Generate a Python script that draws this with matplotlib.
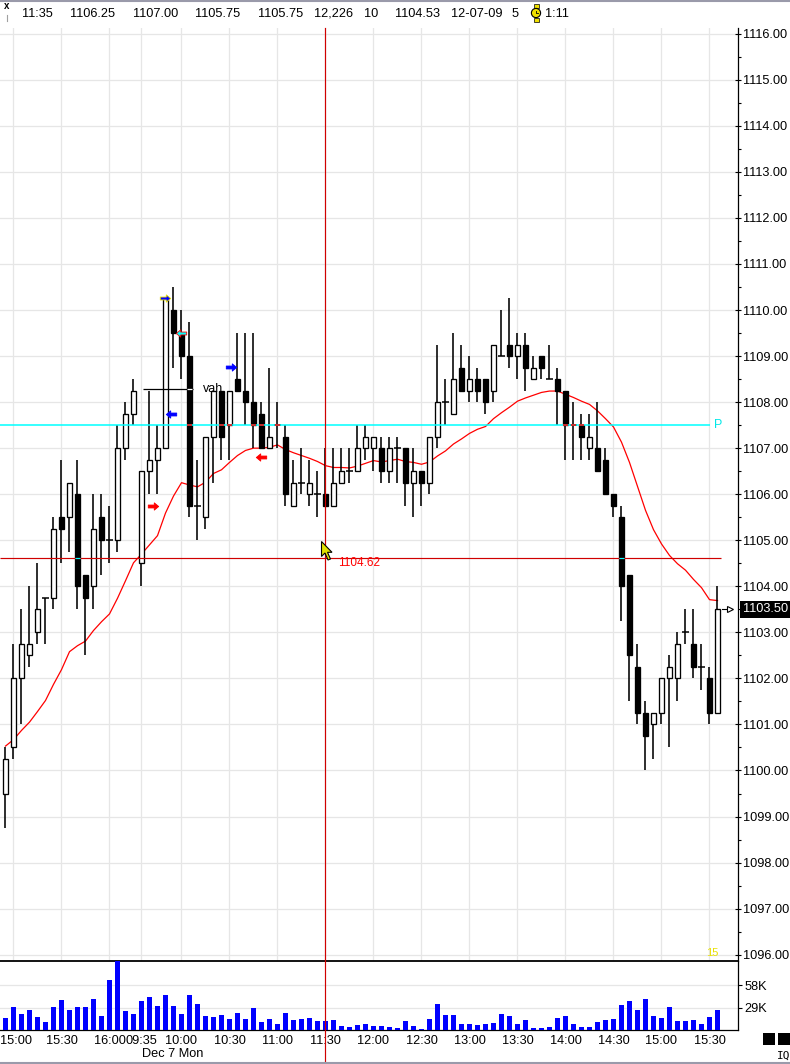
import matplotlib
matplotlib.use("Agg")
import matplotlib.pyplot as plt
import matplotlib.transforms as mtransforms
from matplotlib.patches import Rectangle, Polygon, Circle
from matplotlib.lines import Line2D
from matplotlib.path import Path
from matplotlib.ticker import FormatStrFormatter
import numpy as np

plt.rcParams['font.family'] = ['Liberation Sans', 'DejaVu Sans']

# ---------------- data (5-minute ES bars, 14:55 Dec 4 -> 15:35 Dec 7) ----------------
opens = [1099.50, 1100.50, 1102.00, 1102.50, 1103.00, 1103.75, 1103.75, 1105.50, 1105.50, 1106.00,
         1104.25, 1104.00, 1105.50, 1105.00, 1105.00, 1107.00, 1107.75, 1104.50, 1106.50, 1106.75,
         1107.00, 1110.00, 1109.50, 1109.00, 1105.75, 1105.50, 1107.25, 1108.25, 1107.50, 1108.50,
         1108.25, 1108.00, 1107.75, 1107.00, 1107.50, 1107.25, 1105.75, 1106.25, 1106.00, 1106.00,
         1106.00, 1105.75, 1106.25, 1106.50, 1106.50, 1107.00, 1107.00, 1107.00, 1106.50, 1107.00,
         1107.00, 1106.25, 1106.50, 1106.25, 1107.25, 1108.00, 1107.75, 1108.75, 1108.25, 1108.50,
         1108.50, 1108.25, 1109.00, 1109.25, 1109.00, 1109.25, 1108.50, 1109.00, 1108.50, 1108.50,
         1108.25, 1107.50, 1107.50, 1107.00, 1107.00, 1106.75, 1106.00, 1105.50, 1104.25, 1102.25,
         1101.25, 1101.00, 1101.25, 1102.00, 1102.00, 1103.00, 1102.75, 1102.25, 1102.00, 1101.25]
highs = [1100.50, 1102.75, 1103.50, 1104.00, 1104.50, 1103.75, 1105.50, 1106.75, 1106.25, 1106.75,
         1104.25, 1106.00, 1106.00, 1105.75, 1107.50, 1108.00, 1108.50, 1106.50, 1108.25, 1107.50,
         1110.25, 1110.50, 1110.00, 1109.75, 1106.75, 1107.25, 1108.25, 1108.25, 1108.25, 1109.50,
         1109.50, 1109.50, 1108.00, 1108.75, 1108.00, 1107.50, 1106.75, 1107.00, 1106.75, 1106.50,
         1107.00, 1107.00, 1107.00, 1107.00, 1107.50, 1107.50, 1107.25, 1107.25, 1107.25, 1107.25,
         1107.00, 1107.00, 1106.50, 1107.25, 1109.25, 1108.50, 1109.50, 1109.25, 1109.00, 1108.75,
         1108.50, 1109.25, 1110.00, 1110.25, 1109.50, 1109.50, 1109.00, 1109.00, 1109.25, 1108.75,
         1108.25, 1108.00, 1107.75, 1107.75, 1108.00, 1107.00, 1106.00, 1105.75, 1104.25, 1102.75,
         1101.50, 1101.25, 1102.00, 1102.50, 1103.00, 1103.50, 1103.50, 1102.75, 1102.25, 1104.00]
lows = [1098.75, 1100.25, 1101.00, 1102.25, 1102.75, 1102.75, 1103.50, 1104.50, 1104.75, 1103.50,
        1102.50, 1103.50, 1104.25, 1104.50, 1104.75, 1106.75, 1107.50, 1104.00, 1106.00, 1106.00,
        1107.00, 1108.75, 1108.50, 1105.50, 1105.00, 1105.25, 1106.25, 1106.75, 1106.75, 1108.25,
        1107.50, 1107.00, 1107.00, 1107.00, 1107.00, 1105.75, 1105.75, 1106.00, 1105.75, 1105.50,
        1105.75, 1105.75, 1106.25, 1106.25, 1106.50, 1106.75, 1106.50, 1106.25, 1106.25, 1106.25,
        1105.75, 1105.50, 1105.75, 1106.00, 1107.00, 1107.50, 1107.75, 1108.25, 1108.00, 1108.00,
        1107.75, 1108.00, 1109.00, 1108.75, 1108.50, 1108.25, 1108.50, 1108.50, 1108.50, 1107.50,
        1106.75, 1106.75, 1106.75, 1106.75, 1106.50, 1106.00, 1105.50, 1103.25, 1101.50, 1101.00,
        1100.00, 1100.25, 1101.00, 1100.50, 1101.50, 1102.75, 1102.00, 1101.75, 1101.00, 1101.25]
closes = [1100.25, 1102.00, 1102.75, 1102.75, 1103.50, 1103.75, 1105.25, 1105.25, 1106.25, 1104.00,
          1103.75, 1105.25, 1105.00, 1105.00, 1107.00, 1107.75, 1108.25, 1106.50, 1106.75, 1107.00,
          1110.25, 1109.50, 1109.00, 1105.75, 1105.75, 1107.25, 1108.25, 1107.25, 1108.25, 1108.25,
          1108.00, 1107.50, 1107.00, 1107.25, 1107.50, 1106.00, 1106.25, 1106.25, 1106.25, 1106.00,
          1105.75, 1106.25, 1106.50, 1106.50, 1107.00, 1107.25, 1107.25, 1106.50, 1107.00, 1107.00,
          1106.25, 1106.50, 1106.25, 1107.25, 1108.00, 1108.00, 1108.50, 1108.25, 1108.50, 1108.25,
          1108.00, 1109.25, 1109.00, 1109.00, 1109.25, 1108.75, 1108.75, 1108.75, 1108.50, 1108.25,
          1107.50, 1107.50, 1107.25, 1107.25, 1106.50, 1106.00, 1105.75, 1104.00, 1102.50, 1101.25,
          1100.75, 1101.25, 1102.00, 1102.25, 1102.75, 1103.00, 1102.25, 1102.25, 1101.25, 1103.50]
volumes = [16000, 29900, 20800, 26000, 16900, 10400, 29900, 39000, 26000, 29900,
           29900, 40300, 18200, 65400, 89200, 24700, 20800, 37700, 42900, 31200,
           45400, 31200, 20800, 45400, 33800, 18200, 16900, 19500, 14300, 22100,
           14300, 28600, 10400, 14300, 7800, 22100, 13000, 14300, 15600, 11700,
           12226, 13000, 5200, 3900, 6500, 7800, 5200, 5200, 3900, 2600,
           11700, 5200, 1300, 14300, 33800, 19500, 19500, 7800, 7800, 6500,
           7800, 9100, 20800, 18200, 7800, 13000, 2600, 2600, 3900, 15600,
           18200, 7800, 3900, 3900, 10400, 13000, 14300, 32500, 37700, 26000,
           40300, 18200, 15600, 29900, 11700, 11700, 13000, 7800, 16900, 26000]
ema20 = [1100.53, 1100.67, 1100.87, 1101.05, 1101.28, 1101.52, 1101.87, 1102.19, 1102.58, 1102.71,
         1102.81, 1103.04, 1103.23, 1103.40, 1103.74, 1104.12, 1104.51, 1104.70, 1104.90, 1105.10,
         1105.59, 1105.96, 1106.25, 1106.20, 1106.16, 1106.26, 1106.45, 1106.53, 1106.69, 1106.84,
         1106.95, 1107.00, 1107.00, 1107.02, 1107.07, 1106.97, 1106.90, 1106.84, 1106.78, 1106.71,
         1106.62, 1106.58, 1106.58, 1106.57, 1106.61, 1106.67, 1106.73, 1106.70, 1106.73, 1106.76,
         1106.71, 1106.69, 1106.65, 1106.70, 1106.83, 1106.94, 1107.09, 1107.20, 1107.32, 1107.41,
         1107.47, 1107.64, 1107.77, 1107.89, 1108.02, 1108.09, 1108.15, 1108.21, 1108.24, 1108.24,
         1108.17, 1108.10, 1108.02, 1107.95, 1107.81, 1107.64, 1107.46, 1107.13, 1106.69, 1106.17,
         1105.65, 1105.23, 1104.92, 1104.67, 1104.49, 1104.35, 1104.15, 1103.97, 1103.71, 1103.69]

grid_bars = [1, 7, 13, 17, 22, 28, 34, 40, 46, 52, 58, 64, 70, 76, 82, 88]
time_labels = ["15:00", "15:30", "16:00", "09:35", "10:00", "10:30", "11:00", "11:30",
               "12:00", "12:30", "13:00", "13:30", "14:00", "14:30", "15:00", "15:30"]
date_label = "Dec 7 Mon"
price_ticks = list(range(1096, 1117))
vol_ticks = [29000, 58000]
vol_tick_labels = ["29K", "58K"]

pivot_level = 1107.50
vah_level = 1108.28
cross_bar = 40
cross_price = 1104.62
last_price = 1103.50

signal_bars = [19.9, 21.9, 20.75, 18.4, 28.25, 32.0]
signal_prices = [1110.27, 1109.51, 1107.75, 1105.74, 1108.77, 1106.80]
signal_dirs = ["right", "left", "left", "right", "right", "left"]
signal_faces = ["#0000ff", "#00ffff", "#0000ff", "#ff0000", "#0000ff", "#ff0000"]
signal_edges = ["#e8e000", "#ff0000", "#0000ff", "#ff0000", "#0000ff", "#ff0000"]

header_fields = ["11:35", "1106.25", "1107.00", "1105.75", "1105.75", "12,226", "10",
                 "1104.53", "12-07-09", "5", "1:11"]
header_x = [22, 70, 133, 195, 258, 314, 364, 395, 451, 512, 545]

# ---------------- figure ----------------
W, H = 790, 1064
fig = plt.figure(figsize=(W / 100, H / 100), dpi=100)
fig.patch.set_facecolor("white")

AX_RIGHT = 738.3
PLOT_TOP, PLOT_BOT, VOL_BOT = 28, 961, 1030
ax = fig.add_axes([0, 1 - PLOT_BOT / H, AX_RIGHT / W, (PLOT_BOT - PLOT_TOP) / H])
vax = fig.add_axes([0, 1 - VOL_BOT / H, AX_RIGHT / W, (VOL_BOT - PLOT_BOT) / H])

o = np.array(opens); h = np.array(highs); l = np.array(lows); c = np.array(closes)
n = len(o)
x = np.arange(n)
xlim = (-5.5 / 8, (AX_RIGHT - 5.5) / 8)

GRID = "#e6e6e6"
ax.set_xticks(grid_bars)
ax.set_yticks(price_ticks)
ax.set_yticks(np.arange(1096.5, 1116.0, 1.0), minor=True)
ax.grid(True, which="major", color=GRID, lw=0.9)
ax.set_axisbelow(True)
ax.tick_params(axis="x", length=0, labelbottom=False)
ax.yaxis.tick_right()
ax.yaxis.set_major_formatter(FormatStrFormatter("%.2f"))
ax.tick_params(axis="y", which="major", direction="inout", length=4, width=0.8, pad=1.5, labelsize=9.2)
ax.tick_params(axis="y", which="minor", direction="out", length=2.5, width=0.8)
for s in ["left", "top", "bottom"]:
    ax.spines[s].set_visible(False)
ax.spines["right"].set_linewidth(0.9)

# EMA (behind candles)
ax.plot(x, ema20, color="#ff0000", lw=0.9, zorder=2.5)

# candles
BW = 0.74
ax.vlines(x, l, h, color="black", lw=1.15, zorder=3)
nd = o != c
up = c > o
face = np.where(up, "white", "black")
ax.bar(x[nd], np.abs(c - o)[nd], bottom=np.minimum(o, c)[nd], width=BW,
       color=face[nd], edgecolor="black", linewidth=0.95, zorder=4)
dj = ~nd
ax.hlines(o[dj], x[dj] - BW / 2 - 0.05, x[dj] + BW / 2 + 0.05, color="black", lw=1.1, zorder=4)

# pivot line (XOR look: red where it passes black)
ax.hlines(pivot_level, xlim[0], 88.06, color="#00ffff", lw=1.1, zorder=6)
for k in range(n):
    lo, hi = min(o[k], c[k]), max(o[k], c[k])
    black = c[k] < o[k]
    hit = (black and lo <= pivot_level <= hi) or (not black and (lo == pivot_level or hi == pivot_level))
    if hit:
        ax.hlines(pivot_level, k - BW / 2, k + BW / 2, color="#ff0000", lw=1.1, zorder=7)
ax.text(88.55, pivot_level, "P", color="#00e8e8", fontsize=9, va="center", ha="left", zorder=7)

# VAH line
ax.hlines(vah_level, 17.2, 23.47, color="black", lw=0.9, zorder=5)
for k in range(17, 24):
    if c[k] < o[k] and c[k] < vah_level < o[k]:
        ax.hlines(vah_level, k - BW / 2 + 0.05, k + BW / 2 - 0.05, color="white", lw=0.9, zorder=5.5)
ax.text(24.7, vah_level, "vah", color="black", fontsize=9, va="center", ha="left", zorder=5)

# signal arrows
rv = [(-1, -0.28), (0.15, -0.28), (0.15, -0.7), (1, 0), (0.15, 0.7), (0.15, 0.28), (-1, 0.28), (-1, -0.28)]
right_arrow = Path(rv, closed=True)
left_arrow = Path([(-a, b) for a, b in rv], closed=True)
for bx, py, d, fc, ec in zip(signal_bars, signal_prices, signal_dirs, signal_faces, signal_edges):
    ax.plot([bx], [py], marker=right_arrow if d == "right" else left_arrow, markersize=7.5,
            mfc=fc, mec=ec, mew=0.6, ls="none", zorder=8)

# crosshair
ax.hlines(cross_price, xlim[0], 89.5, color="#d00000", lw=0.85, zorder=6)
for k in range(n):
    if c[k] < o[k] and c[k] < cross_price < o[k]:
        ax.hlines(cross_price, k - BW / 2, k + BW / 2, color="#00ffff", lw=0.85, zorder=6.5)
ax.text(41.56, 1104.50, "1104.62", color="#ff0000", fontsize=8.5, va="center", ha="left", zorder=8)
trans = mtransforms.blended_transform_factory(ax.transData, fig.transFigure)
fig.add_artist(Line2D([cross_bar, cross_bar], [0, 1 - PLOT_TOP / H], transform=trans,
                      color="#d00000", lw=0.85, zorder=10))

# last price box and pointer
btrans = mtransforms.blended_transform_factory(ax.transAxes, ax.transData)
ax.text(1.006, last_price, "1103.50", transform=btrans, color="white", fontsize=9.2,
        va="center", ha="left", clip_on=False, zorder=10,
        bbox=dict(boxstyle="square,pad=0.18", fc="black", ec="none"))
ax.plot([89.6, 90.3], [last_price, last_price], color="black", lw=0.8, clip_on=False, zorder=9)
ax.plot([90.62], [last_price], marker=">", ms=5, mfc="white", mec="black", mew=0.8,
        clip_on=False, zorder=9)

ax.text(88.4, 1096.04, "15", color="#e8e000", fontsize=8, ha="center", va="center", zorder=7)

# limits last (set_ticks may widen view limits)
ax.set_xlim(xlim)
ax.set_ylim(1095.863, 1116.124)

# ---------------- volume panel ----------------
vax.bar(x, volumes, width=0.62, color="#0000ff", zorder=3)
vax.set_yticks(vol_ticks)
vax.set_yticklabels(vol_tick_labels)
vax.yaxis.tick_right()
vax.tick_params(axis="y", direction="out", length=3, width=0.8, pad=1.5, labelsize=9.2)
vax.yaxis.grid(True, color=GRID, lw=0.9)
vax.xaxis.grid(False)
vax.set_axisbelow(True)
vax.set_xticks(grid_bars)
vax.set_xticklabels(time_labels)
vax.tick_params(axis="x", length=0, pad=3.5, labelsize=9.2)
# nudge the first (edge) label so it is not clipped by the figure border
first_lbl = vax.get_xticklabels()[0]
first_lbl.set_transform(first_lbl.get_transform() +
                        mtransforms.ScaledTranslation(2.5 / 100, 0, fig.dpi_scale_trans))
vax.spines["left"].set_visible(False)
vax.spines["top"].set_linewidth(1.3)
vax.spines["bottom"].set_linewidth(0.9)
vax.spines["right"].set_linewidth(0.9)
vax.set_xlim(xlim)
vax.set_ylim(0, 89600)
fig.text(142 / W, 1 - 1054 / H, date_label, fontsize=9.2, ha="left", va="center")

# ---------------- UI overlay (header, cursor, buttons) ----------------
ui = fig.add_axes([0, 0, 1, 1], zorder=20)
ui.set_xlim(0, W)
ui.set_ylim(H, 0)
ui.axis("off")
ui.patch.set_alpha(0)
ui.plot([0, W], [0.6, 0.6], color="#9a9aaa", lw=1.5)
ui.plot([0, W], [1063.2, 1063.2], color="#9a9aaa", lw=1.5)
ui.text(7, 6, "x", fontsize=7, fontweight="bold", ha="center", va="center")
ui.plot([7, 7], [15, 21], color="#a0a0a0", lw=0.8)
for s, px in zip(header_fields, header_x):
    ui.text(px, 14, s, fontsize=9.2, ha="left", va="center")
ui.add_patch(Rectangle((533.5, 4), 5, 4, fc="#f0e000", ec="black", lw=0.5))
ui.add_patch(Rectangle((533.5, 18), 5, 4, fc="#f0e000", ec="black", lw=0.5))
ui.add_patch(Circle((536, 13), 4.6, fc="#f0e000", ec="black", lw=0.8))
ui.plot([536, 536, 538], [10.5, 13, 13], color="black", lw=0.6)

tip = (321.5, 541.5)
cur = [(0, 0), (0, 15), (3.5, 11.5), (6.5, 18.5), (9, 17.5), (6, 10.8), (10.5, 10.8)]
ui.add_patch(Polygon([(tip[0] + a, tip[1] + b) for a, b in cur], closed=True,
                     fc="#e0e000", ec="black", lw=0.8))

ui.add_patch(Rectangle((763, 1033), 12, 12, fc="black", ec="none"))
ui.add_patch(Rectangle((777.5, 1033), 12.5, 12, fc="black", ec="none"))
ui.text(784, 1056, "IQ", fontsize=8, ha="center", va="center", family="DejaVu Sans Mono")

fig.savefig("out.png", dpi=100)
